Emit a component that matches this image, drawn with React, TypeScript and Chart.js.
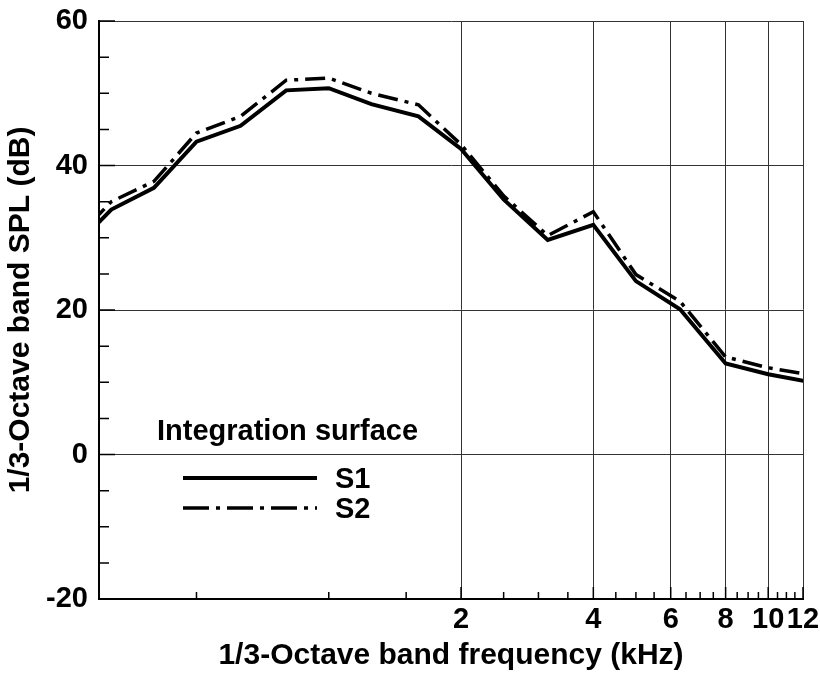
import React, { useEffect, useRef } from "react";
import { Chart, registerables } from "chart.js";

Chart.register(...registerables);

// 1/3-octave band centre frequencies (kHz)
const freqs = [0.25, 0.32, 0.4, 0.5, 0.63, 0.8, 1.0, 1.25, 1.6, 2.0, 2.5, 3.15, 4.0, 5.0, 6.3, 8.0, 10.0, 12.5];
// SPL (dB), integration surface S1
const s1 = [27.3, 33.9, 36.9, 43.3, 45.5, 50.4, 50.7, 48.5, 46.8, 42.3, 35.3, 29.7, 31.8, 24.0, 20.1, 12.6, 11.1, 10.0];
// SPL (dB), integration surface S2
const s2 = [28.2, 35.0, 37.8, 44.5, 46.8, 51.8, 52.1, 50.0, 48.4, 42.9, 35.8, 30.3, 33.6, 24.9, 21.2, 13.5, 12.0, 11.0];

const seriesLabels = ["S1", "S2"];
const legendTitle = "Integration surface";
const xTitle = "1/3-Octave band frequency (kHz)";
const yTitle = "1/3-Octave band SPL (dB)";

const xMajorTicks = [2, 4, 6, 8, 10, 12];
const xMinorTicks = [0.5, 1, 1.5, 2.5, 3, 3.5, 4.5, 5, 5.5, 6.5, 7, 7.5, 8.5, 9, 9.5, 10.5, 11, 11.5];
const yMajorTicks = [-20, 0, 20, 40, 60];
const yMinorTicks = [-15, -10, -5, 5, 10, 15, 25, 30, 35, 45, 50, 55];

const FONT = "'Liberation Sans', Arial, Helvetica, sans-serif";
const S2_DASH = [20, 7, 4, 7];

const tickPlugin = {
  id: "innerTicks",
  afterDraw(chart: any) {
    const ctx = chart.ctx;
    const { left, bottom } = chart.chartArea;
    const xs = chart.scales.x;
    const ys = chart.scales.y;
    ctx.save();
    ctx.strokeStyle = "#000";
    ctx.lineWidth = 1.5;
    ctx.beginPath();
    xMinorTicks.forEach((v) => {
      const px = xs.getPixelForValue(v);
      ctx.moveTo(px, bottom);
      ctx.lineTo(px, bottom - 7);
    });
    xMajorTicks.forEach((v) => {
      const px = xs.getPixelForValue(v);
      ctx.moveTo(px, bottom);
      ctx.lineTo(px, bottom - 12);
    });
    yMinorTicks.forEach((v) => {
      const py = ys.getPixelForValue(v);
      ctx.moveTo(left, py);
      ctx.lineTo(left + 10, py);
    });
    yMajorTicks.forEach((v) => {
      const py = ys.getPixelForValue(v);
      ctx.moveTo(left, py);
      ctx.lineTo(left + 16, py);
    });
    ctx.stroke();
    ctx.restore();
  },
};

const legendPlugin = {
  id: "customLegend",
  afterDraw(chart: any) {
    const ctx = chart.ctx;
    ctx.save();
    ctx.fillStyle = "#000";
    ctx.font = `bold 29px ${FONT}`;
    ctx.textBaseline = "alphabetic";
    ctx.textAlign = "left";
    ctx.fillText(legendTitle, 157, 440);
    const rows = [
      { y: 478, dash: [] as number[], w: 4 },
      { y: 508, dash: [26, 7, 4, 7], w: 3.5 },
    ];
    rows.forEach((r, i) => {
      ctx.beginPath();
      ctx.setLineDash(r.dash);
      ctx.lineWidth = r.w;
      ctx.strokeStyle = "#000";
      ctx.moveTo(183, r.y);
      ctx.lineTo(317, r.y);
      ctx.stroke();
      ctx.setLineDash([]);
      ctx.fillText(chart.data.datasets[i].label, 335, r.y + 10);
    });
    ctx.restore();
  },
};

export default function App() {
  const ref = useRef<HTMLCanvasElement | null>(null);

  useEffect(() => {
    if (!ref.current) return;
    const chart = new Chart(ref.current, {
      type: "line",
      data: {
        datasets: [
          {
            label: seriesLabels[0],
            data: freqs.map((f, i) => ({ x: f, y: s1[i] })),
            borderColor: "#000",
            borderWidth: 4,
            pointRadius: 0,
            tension: 0,
            fill: false,
            clip: 0,
          },
          {
            label: seriesLabels[1],
            data: freqs.map((f, i) => ({ x: f, y: s2[i] })),
            borderColor: "#000",
            borderWidth: 3.5,
            borderDash: S2_DASH,
            pointRadius: 0,
            tension: 0,
            fill: false,
            clip: 0,
          },
        ],
      },
      options: {
        responsive: false,
        animation: false,
        layout: { padding: { left: 0, top: 21, right: 17, bottom: 0 } },
        plugins: {
          legend: { display: false },
          tooltip: { enabled: false },
        },
        scales: {
          x: {
            type: "logarithmic",
            min: 0.3,
            max: 12,
            afterBuildTicks: (scale: any) => {
              scale.ticks = xMajorTicks.map((v) => ({ value: v }));
            },
            afterFit: (scale: any) => {
              scale.height = 76;
              scale.paddingLeft = 0;
              scale.paddingRight = 0;
            },
            ticks: {
              autoSkip: false,
              maxRotation: 0,
              minRotation: 0,
              padding: 4,
              color: "#000",
              font: { family: FONT, size: 29, weight: "bold" },
              callback: (v: any) => String(v),
            },
            grid: { color: "#333", lineWidth: 1, drawTicks: false },
            border: { display: true, color: "#000", width: 2 },
            title: {
              display: true,
              text: xTitle,
              color: "#000",
              font: { family: FONT, size: 30, weight: "bold" },
              padding: { top: 0, bottom: 1 },
            },
          },
          y: {
            type: "linear",
            min: -20,
            max: 60,
            afterBuildTicks: (scale: any) => {
              scale.ticks = yMajorTicks.map((v) => ({ value: v }));
            },
            afterFit: (scale: any) => {
              scale.width = 99;
              scale.paddingTop = 0;
              scale.paddingBottom = 0;
            },
            ticks: {
              padding: 11,
              color: "#000",
              font: { family: FONT, size: 29, weight: "bold" },
            },
            grid: { color: "#333", lineWidth: 1, drawTicks: false },
            border: { display: true, color: "#000", width: 2 },
            title: {
              display: true,
              text: yTitle,
              color: "#000",
              font: { family: FONT, size: 30, weight: "bold" },
              padding: { top: 3, bottom: 0 },
            },
          },
        },
      } as any,
      plugins: [tickPlugin, legendPlugin],
    });
    return () => chart.destroy();
  }, []);

  return (
    <div style={{ position: "absolute", left: 0, top: 0, width: 820, height: 675, background: "#fff" }}>
      <canvas ref={ref} width={820} height={675} />
    </div>
  );
}
